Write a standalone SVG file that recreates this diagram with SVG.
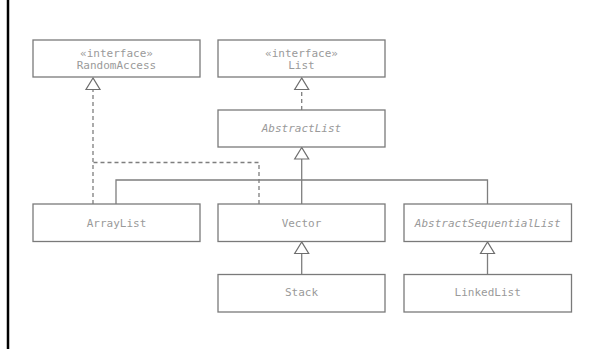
<svg xmlns="http://www.w3.org/2000/svg" width="591" height="349" viewBox="0 0 591 349">
<style>
.box{fill:#fff;stroke:#7a7a7a;stroke-width:1.3}
.t{font-family:"DejaVu Sans Mono","Liberation Mono",monospace;font-size:11px;fill:#9a9a9a;text-anchor:middle}
.i{font-style:italic}
.ln{fill:none;stroke:#7e7e7e;stroke-width:1.3}
.d{stroke-dasharray:4,3}
.tri{fill:#fff;stroke:#6e6e6e;stroke-width:1.2}
</style>
<defs>
<polygon id="tri" points="0,0 -7,11.5 7,11.5" class="tri"/>
</defs>
<rect x="0" y="0" width="591" height="349" fill="#fff"/>
<line x1="8" y1="0" x2="8" y2="349" stroke="#000" stroke-width="2.5"/>
<g id="connectors">
<path class="ln d" d="M93,204 V89.5"/>
<path class="ln d" d="M259,204 V162.5 H93"/>
<path class="ln d" d="M301.7,110 V89.5"/>
<path class="ln" d="M301.7,159 V204"/>
<path class="ln" d="M116,204 V180 H487.5 V204"/>
<path class="ln" d="M301.7,253.5 V274.5"/>
<path class="ln" d="M487.5,253.5 V274.5"/>
<use href="#tri" x="93" y="78"/>
<use href="#tri" x="301.7" y="78"/>
<use href="#tri" x="301.7" y="147.5"/>
<use href="#tri" x="301.7" y="242"/>
<use href="#tri" x="487.5" y="242"/>
</g>
<g id="RandomAccess">
<rect class="box" x="33" y="40" width="167" height="37"/>
<text class="t" x="116.5" y="56.5">«interface»</text>
<text class="t" x="116.5" y="69">RandomAccess</text>
</g>
<g id="List">
<rect class="box" x="218" y="40" width="167" height="37"/>
<text class="t" x="301.5" y="56.5">«interface»</text>
<text class="t" x="301.5" y="69">List</text>
</g>
<g id="AbstractList">
<rect class="box" x="218" y="110" width="167" height="37"/>
<text class="t i" x="301.5" y="132">AbstractList</text>
</g>
<g id="ArrayList">
<rect class="box" x="33" y="204" width="167" height="37.5"/>
<text class="t" x="116.5" y="226.5">ArrayList</text>
</g>
<g id="Vector">
<rect class="box" x="218" y="204" width="167" height="37.5"/>
<text class="t" x="301.5" y="226.5">Vector</text>
</g>
<g id="AbstractSequentialList">
<rect class="box" x="404" y="204" width="167.5" height="37.5"/>
<text class="t i" x="487.7" y="226.5">AbstractSequentialList</text>
</g>
<g id="Stack">
<rect class="box" x="218" y="274.5" width="167" height="37.5"/>
<text class="t" x="301.5" y="296">Stack</text>
</g>
<g id="LinkedList">
<rect class="box" x="404" y="274.5" width="167.5" height="37.5"/>
<text class="t" x="487.7" y="296">LinkedList</text>
</g>
</svg>
